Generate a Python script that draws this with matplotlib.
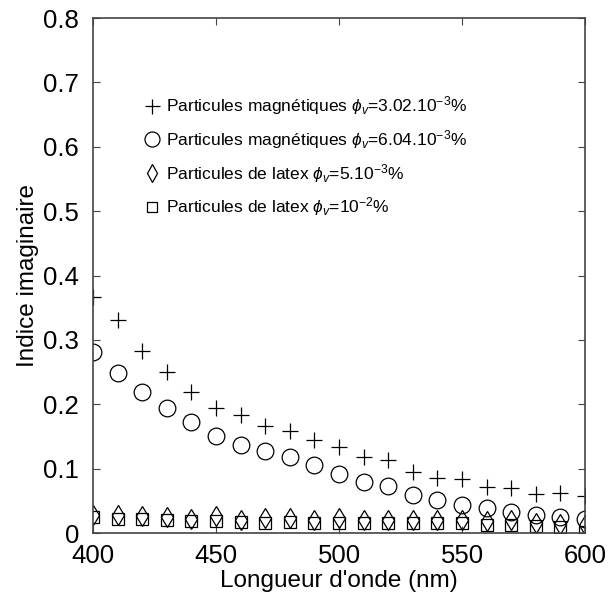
import numpy as np
import matplotlib
matplotlib.use("Agg")
import matplotlib.pyplot as plt

plt.rcParams['font.family'] = ['Liberation Sans', 'DejaVu Sans']
plt.rcParams['mathtext.fontset'] = 'custom'
plt.rcParams['mathtext.rm'] = 'Liberation Sans'
plt.rcParams['mathtext.it'] = 'Liberation Sans:italic'

# wavelength (nm)
wavelength = np.arange(400, 601, 10)

# imaginary index
mag_302 = [0.366, 0.331, 0.283, 0.250, 0.219, 0.195, 0.184, 0.167, 0.158, 0.144, 0.133,
           0.118, 0.114, 0.095, 0.086, 0.084, 0.072, 0.070, 0.061, 0.062, 0.057]
mag_604 = [0.281, 0.248, 0.219, 0.194, 0.173, 0.150, 0.137, 0.127, 0.118, 0.105, 0.092,
           0.080, 0.073, 0.059, 0.052, 0.044, 0.039, 0.033, 0.028, 0.025, 0.022]
latex_5 = [0.028, 0.028, 0.027, 0.025, 0.022, 0.026, 0.021, 0.023, 0.023, 0.020, 0.023,
           0.020, 0.020, 0.021, 0.020, 0.021, 0.018, 0.021, 0.016, 0.014, 0.012]
latex_10 = [0.025, 0.022, 0.022, 0.021, 0.018, 0.018, 0.017, 0.016, 0.017, 0.016, 0.016,
            0.016, 0.016, 0.016, 0.015, 0.015, 0.012, 0.012, 0.011, 0.009, 0.001]

labels = [r'Particules magnétiques $\phi_v$=3.02.10$^{-3}$%',
          r'Particules magnétiques $\phi_v$=6.04.10$^{-3}$%',
          r'Particules de latex $\phi_v$=5.10$^{-3}$%',
          r'Particules de latex $\phi_v$=10$^{-2}$%']

fig = plt.figure(figsize=(6.12, 6.04), dpi=100)
ax = fig.add_axes([0.152, 0.1175, 0.804, 0.8525])

ax.plot(wavelength, mag_302, '+', color='black', ms=12, mew=0.9, label=labels[0])
ax.plot(wavelength, mag_604, 'o', color='black', mfc='none', ms=12, mew=0.9, label=labels[1])
ax.plot(wavelength, latex_5, 'd', color='black', mfc='none', ms=10, mew=0.9, label=labels[2])
ax.plot(wavelength, latex_10, 's', color='black', mfc='none', ms=8, mew=0.9, label=labels[3])

ax.set_xlim(400, 600)
ax.set_ylim(0, 0.8)
ax.set_xticks([400, 450, 500, 550, 600])
ax.set_yticks(np.arange(0, 0.81, 0.1))
ax.set_yticklabels(['0', '0.1', '0.2', '0.3', '0.4', '0.5', '0.6', '0.7', '0.8'])
ax.tick_params(direction='in', top=True, right=True, labelsize=18.5, length=5, color='#444444')
ax.tick_params(axis='y', pad=10)
ax.tick_params(axis='x', pad=8)
for s in ax.spines.values():
    s.set_color('#444444')
    s.set_linewidth(1.2)

ax.set_xlabel("Longueur d'onde (nm)", fontsize=17.5, labelpad=1)
ax.set_ylabel('Indice imaginaire', fontsize=17.5, labelpad=3)

ax.legend(loc='upper left', bbox_to_anchor=(0.088, 0.865), frameon=False, fontsize=12.5,
          handletextpad=0.3, labelspacing=0.62, handlelength=1.0, borderaxespad=0,
          markerscale=0.9)

fig.savefig('out.png', dpi=100)
